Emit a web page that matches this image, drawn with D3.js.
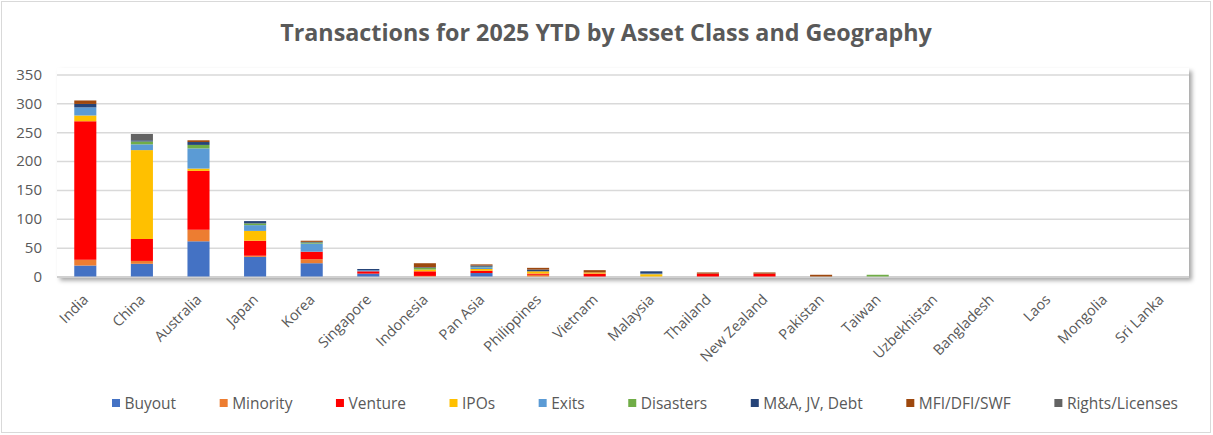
<!DOCTYPE html>
<html>
<head>
<meta charset="utf-8">
<script src="https://cdn.jsdelivr.net/npm/d3@7"></script>
<style>
  body { margin: 0; background: #fff; }
  text { font-family: "Open Sans", "Noto Sans", sans-serif; fill: #595959; }
</style>
</head>
<body>
<script>
const countries = ["India","China","Australia","Japan","Korea","Singapore","Indonesia","Pan Asia","Philippines","Vietnam","Malaysia","Thailand","New Zealand","Pakistan","Taiwan","Uzbekhistan","Bangladesh","Laos","Mongolia","Sri Lanka"]

const seriesNames = ["Buyout","Minority","Venture","IPOs","Exits","Disasters","M&A, JV, Debt","MFI/DFI/SWF","Rights/Licenses"]
const seriesColors = ["#4472C4","#ED7D31","#FF0000","#FFC000","#5B9BD5","#70AD47","#264478","#9E480E","#636363"]

const buyout    = [19, 22, 61, 34, 23, 5, 0, 6, 0, 0, 0, 0, 0, 0, 0, 0, 0, 0, 0, 0]
const minority  = [10, 5, 20, 2, 7, 0, 1, 0, 3, 0, 0, 0, 0, 0, 0, 0, 0, 0, 0, 0]
const venture   = [240, 38, 102, 26, 13, 4, 8, 4, 2, 5, 0, 5, 5, 0, 0, 0, 0, 0, 0, 0]
const ipos      = [10, 154, 4, 17, 0, 0, 3, 3, 4, 2, 4, 0, 0, 0, 0, 0, 0, 0, 0, 0]
const exits     = [14, 10, 35, 10, 14, 2, 0, 3, 0, 0, 1, 0, 0, 0, 0, 0, 0, 0, 0, 0]
const disasters = [0, 5, 6, 3, 2, 0, 3, 1, 0, 0, 0, 0, 0, 0, 3, 0, 0, 0, 0, 0]
const mna       = [6, 2, 5, 4, 1, 2, 1, 2, 3, 0, 4, 0, 0, 0, 0, 0, 0, 0, 0, 0]
const mfi       = [6, 0, 3, 0, 2, 0, 7, 2, 3, 4, 0, 2, 2, 3, 0, 0, 0, 0, 0, 0]
const rights    = [0, 11, 0, 0, 0, 0, 0, 0, 0, 0, 0, 0, 0, 0, 0, 0, 0, 0, 0, 0]

const yTicks = [0, 50, 100, 150, 200, 250, 300, 350]

const allSeries = [buyout, minority, venture, ipos, exits, disasters, mna, mfi, rights]

const width = 1213
const height = 435

const rows = countries.map((c, i) => {
  const r = { country: c }
  seriesNames.forEach((s, j) => r[s] = allSeries[j][i])
  return r
})
const stacked = d3.stack().keys(seriesNames)(rows)

const svg = d3.select("body").append("svg")
  .attr("width", width)
  .attr("height", height)

// outer chart border
svg.append("rect")
  .attr("x", 1.5).attr("y", 1.5)
  .attr("width", width - 4).attr("height", height - 4)
  .attr("fill", "#fff")
  .attr("stroke", "#d9d9d9")

const defs = svg.append("defs")
const f = defs.append("filter").attr("id", "shadow")
  .attr("x", "-5%").attr("y", "-5%").attr("width", "110%").attr("height", "120%")
f.append("feDropShadow")
  .attr("dx", 3).attr("dy", 3).attr("stdDeviation", 2)
  .attr("flood-color", "#000").attr("flood-opacity", 0.35)

const plotL = 57, plotR = 1189, plotT = 74.5, plotB = 276.5

// plot area with shadow
svg.append("rect")
  .attr("x", plotL).attr("y", 68)
  .attr("width", plotR - plotL).attr("height", plotB - 68 + 1)
  .attr("fill", "#fff")
  .attr("filter", "url(#shadow)")

const x = d3.scaleBand()
  .domain(countries)
  .range([plotL, plotR])
  .paddingInner(0.61)
  .paddingOuter(0.305)

const y = d3.scaleLinear()
  .domain([0, 350])
  .range([plotB, plotT])

// gridlines + y labels
const yAxis = svg.append("g")
  .attr("transform", `translate(${plotL},0)`)
  .call(d3.axisLeft(y).tickValues(yTicks).tickSize(-(plotR - plotL)).tickPadding(15))
yAxis.select(".domain").remove()
yAxis.selectAll(".tick line")
  .attr("stroke", "#d9d9d9")
  .attr("stroke-width", 1.5)
yAxis.selectAll(".tick text")
  .attr("font-size", 15)
  .attr("fill", "#595959")
  .attr("font-family", "Open Sans")

// baseline (under the bars)
svg.append("line")
  .attr("x1", plotL).attr("x2", plotR)
  .attr("y1", plotB + 0.5).attr("y2", plotB + 0.5)
  .attr("stroke", "#d0d0d0")
  .attr("stroke-width", 2)

// bars
svg.append("g")
  .selectAll("g")
  .data(stacked)
  .join("g")
  .attr("fill", (d, i) => seriesColors[i])
  .selectAll("rect")
  .data(d => d.filter(p => p[1] - p[0] > 0))
  .join("rect")
  .attr("x", d => x(d.data.country))
  .attr("width", x.bandwidth())
  .attr("y", d => y(d[1]))
  .attr("height", d => y(d[0]) - y(d[1]))

// x labels
svg.append("g")
  .selectAll("text")
  .data(countries)
  .join("text")
  .attr("transform", d => `translate(${x(d) + x.bandwidth() / 2 + 4},${plotB + 24}) rotate(-45)`)
  .attr("text-anchor", "end")
  .attr("font-size", 14.5)
  .text(d => d)

// title
const title = svg.append("text")
  .attr("x", 606)
  .attr("y", 41)
  .attr("text-anchor", "middle")
  .attr("font-weight", "bold")
  .attr("font-size", 22)
  .text("Transactions for 2025 YTD by Asset Class and Geography")
const tw = title.node().getComputedTextLength()
title.attr("font-size", 22 * 652 / tw)

// legend
const legend = svg.append("g")
const items = legend.selectAll("g")
  .data(seriesNames)
  .join("g")
items.append("rect")
  .attr("width", 8).attr("height", 8)
  .attr("y", 399)
  .attr("fill", (d, i) => seriesColors[i])
items.append("text")
  .attr("x", 12.5)
  .attr("y", 408.5)
  .attr("font-size", 15.5)
  .text(d => d)

const widths = items.nodes().map(n => 12.5 + d3.select(n).select("text").node().getComputedTextLength())
const start = 112, end = 1178
const gap = (end - start - d3.sum(widths)) / (widths.length - 1)
let pos = start
items.each(function (d, i) {
  d3.select(this).attr("transform", `translate(${pos},0)`)
  pos += widths[i] + gap
})
</script>
</body>
</html>
